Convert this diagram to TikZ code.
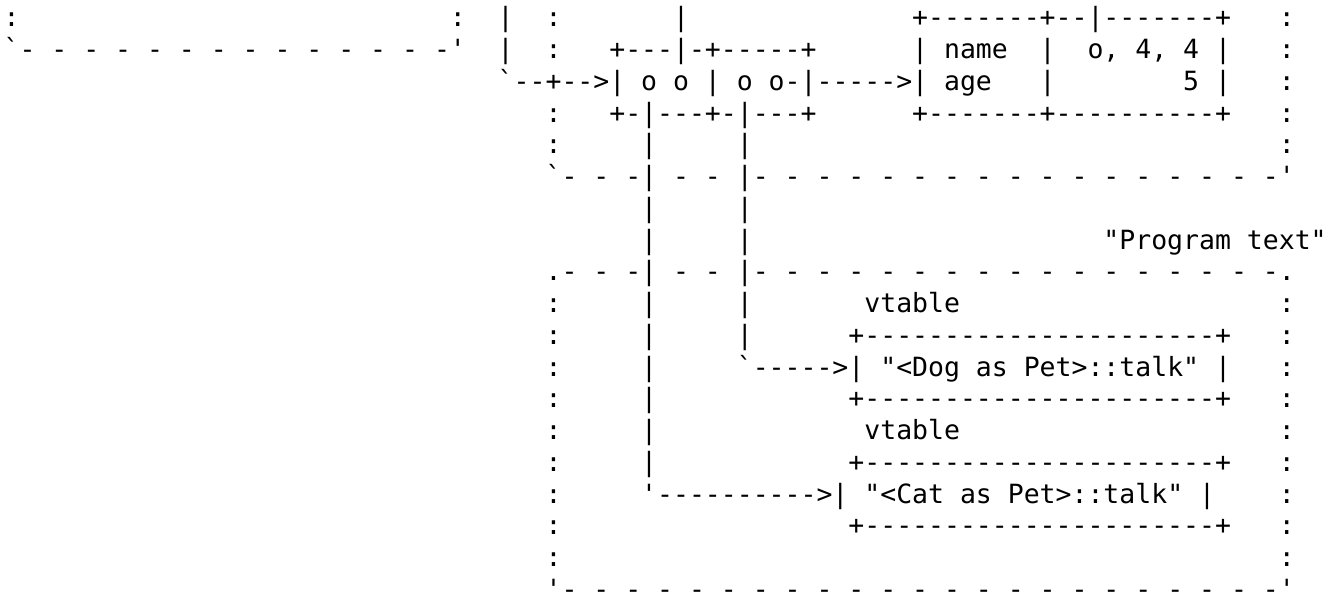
\documentclass[tikz,border=0pt]{standalone}
\usepackage{fontspec}
\setmonofont{DejaVu Sans Mono}[Ligatures=TeXOff]
\tikzset{
  asc/.style={anchor=base west, inner sep=0pt, outer sep=0pt,
    font=\ttfamily\fontsize{19.86pt}{23.81pt}\selectfont},
}

\begin{document}
\begin{tikzpicture}[x=11.955pt, y=-23.8125pt]
\useasboundingbox (-0.226,-0.847) rectangle (83.84,17.862);
% row 0
\node[style=asc](outerL) at (0,0){:};
\node[style=asc](outerR) at (28,0){:};
\node[style=asc](ptrA) at (31,0){|};
\node[style=asc](heapL0) at (34,0){:};
\node[style=asc](ptrB) at (42,0){|};
\node[style=asc](dogTop) at (57,0){+-------+--|-------+};
\node[style=asc](heapR0) at (80,0){:};
% row 1
\node[style=asc](outerB) at (0,1){`- - - - - - - - - - - - - -'};
\node[style=asc](ptrA1) at (31,1){|};
\node[style=asc](heapL1) at (34,1){:};
\node[style=asc](vecTop) at (38,1){+---|-+-----+};
\node[style=asc](nameKey) at (57,1){| name};
\node[style=asc](nameSep) at (65,1){|};
\node[style=asc](nameVal) at (68,1){o, 4, 4 |};
\node[style=asc](heapR1) at (80,1){:};
% row 2
\node[style=asc](vecMid) at (31,2){`--+-->| o o | o o-|----->| age};
\node[style=asc](ageSep) at (65,2){|};
\node[style=asc](ageVal) at (74,2){5 |};
\node[style=asc](heapR2) at (80,2){:};
% row 3
\node[style=asc](heapL3) at (34,3){:};
\node[style=asc](vecBot) at (38,3){+-|---+-|---+};
\node[style=asc](dogBot) at (57,3){+-------+----------+};
\node[style=asc](heapR3) at (80,3){:};
% row 4
\node[style=asc](heapL4) at (34,4){:};
\node[style=asc](catPtr4) at (40,4){|};
\node[style=asc](dogPtr4) at (46,4){|};
\node[style=asc](heapR4) at (80,4){:};
% row 5
\node[style=asc](heapB) at (34,5){`- - -| - - |- - - - - - - - - - - - - - - - -'};
% rows 6--7
\node[style=asc](catPtr6) at (40,6){|};
\node[style=asc](dogPtr6) at (46,6){|};
\node[style=asc](catPtr7) at (40,7){|};
\node[style=asc](dogPtr7) at (46,7){|};
\node[style=asc](progLbl) at (69,7){"Program text"};
% row 8
\node[style=asc](progTop) at (34,8){.- - -| - - |- - - - - - - - - - - - - - - - -.};
% row 9
\node[style=asc](progL9) at (34,9){:};
\node[style=asc](catPtr9) at (40,9){|};
\node[style=asc](dogPtr9) at (46,9){|};
\node[style=asc](vtDogLbl) at (54,9){vtable};
\node[style=asc](progR9) at (80,9){:};
% row 10
\node[style=asc](progL10) at (34,10){:};
\node[style=asc](catPtr10) at (40,10){|};
\node[style=asc](dogPtr10) at (46,10){|};
\node[style=asc](vtDogTop) at (53,10){+----------------------+};
\node[style=asc](progR10) at (80,10){:};
% row 11
\node[style=asc](progL11) at (34,11){:};
\node[style=asc](catPtr11) at (40,11){|};
\node[style=asc](vtDog) at (46,11){`----->| "<Dog as Pet>::talk" |};
\node[style=asc](progR11) at (80,11){:};
% row 12
\node[style=asc](progL12) at (34,12){:};
\node[style=asc](catPtr12) at (40,12){|};
\node[style=asc](vtDogBot) at (53,12){+----------------------+};
\node[style=asc](progR12) at (80,12){:};
% row 13
\node[style=asc](progL13) at (34,13){:};
\node[style=asc](catPtr13) at (40,13){|};
\node[style=asc](vtCatLbl) at (54,13){vtable};
\node[style=asc](progR13) at (80,13){:};
% row 14
\node[style=asc](progL14) at (34,14){:};
\node[style=asc](catPtr14) at (40,14){|};
\node[style=asc](vtCatTop) at (53,14){+----------------------+};
\node[style=asc](progR14) at (80,14){:};
% row 15
\node[style=asc](progL15) at (34,15){:};
\node[style=asc](vtCat) at (40,15){'---------->| "<Cat as Pet>::talk" |};
\node[style=asc](progR15) at (80,15){:};
% row 16
\node[style=asc](progL16) at (34,16){:};
\node[style=asc](vtCatBot) at (53,16){+----------------------+};
\node[style=asc](progR16) at (80,16){:};
% row 17
\node[style=asc](progL17) at (34,17){:};
\node[style=asc](progR17) at (80,17){:};
% row 18
\node[style=asc](progB) at (34,18){'- - - - - - - - - - - - - - - - - - - - - - -'};
\end{tikzpicture}
\end{document}
